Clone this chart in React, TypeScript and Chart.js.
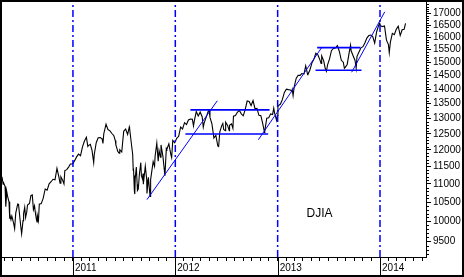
import React, { useEffect, useRef } from 'react';
import { Chart, registerables } from 'chart.js';

Chart.register(...registerables);

// ---- DATA (DJIA closes) ----
const djia2010: [string, number][] = [
  ["04-23",11204],["04-27",10992],["04-30",11009],["05-04",10926],["05-06",10520],["05-07",10380],["05-10",10785],["05-14",10620],["05-18",10510],["05-20",10068],["05-21",10193],["05-25",10043],["05-28",10137],["06-01",10025],["06-04",9932],["06-07",9816],["06-11",10212],["06-18",10450],["06-21",10443],["06-25",10144],["06-29",9870],["07-02",9686],["07-07",10018],["07-09",10198],["07-13",10364],["07-16",10098],["07-20",10230],["07-23",10425],["07-30",10466],["08-04",10680],["08-09",10698],["08-13",10303],["08-17",10406],["08-20",10214],["08-24",10040],["08-26",9985],["08-27",10150],["08-31",10015],["09-03",10448],["09-10",10462],["09-17",10608],["09-24",10860],["10-01",10830],["10-08",11006],["10-15",11063],["10-22",11133],["10-29",11118],["11-05",11445],["11-12",11193],["11-16",11023],["11-19",11204],["11-26",11092],["11-30",11006],["12-03",11382],["12-10",11410],["12-17",11492],["12-23",11573],["12-31",11578]
];
const djia2011: [string, number][] = [
  ["01-07",11675],["01-14",11787],["01-21",11871],["01-28",11824],["02-04",12092],["02-11",12273],["02-18",12391],["02-23",12106],["02-25",12130],["03-04",12169],["03-10",11984],["03-16",11613],["03-18",11859],["03-25",12220],["04-01",12376],["04-08",12380],["04-15",12342],["04-18",12202],["04-21",12505],["04-29",12811],["05-06",12638],["05-13",12596],["05-20",12512],["05-27",12441],["06-01",12290],["06-03",12151],["06-10",11952],["06-15",11898],["06-17",12004],["06-24",11934],["07-01",12582],["07-08",12657],["07-15",12480],["07-21",12724],["07-22",12681],["07-29",12143],["08-02",11867],["08-04",11384],["08-05",11445],["08-08",10810],["08-09",11240],["08-10",10720],["08-11",11144],["08-15",11483],["08-18",10991],["08-19",10818],["08-22",10855],["08-26",11285],["08-31",11614],["09-02",11240],["09-06",11139],["09-08",11296],["09-09",10992],["09-16",11509],["09-21",11125],["09-22",10734],["09-27",11191],["09-30",10913],["10-03",10655],["10-04",10809],["10-06",11123],["10-14",11644],["10-19",11505],["10-21",11808],["10-27",12209],["11-01",11657],["11-04",11983],["11-09",11780],["11-11",12153],["11-18",11796],["11-25",11231],["11-30",12046],["12-02",12019],["12-09",12184],["12-16",11866],["12-19",11766],["12-23",12294],["12-30",12218]
];
const djia2012: [string, number][] = [
  ["01-06",12360],["01-13",12422],["01-20",12720],["01-27",12660],["02-03",12862],["02-10",12801],["02-17",12950],["02-24",12983],["03-02",12978],["03-06",12759],["03-09",12922],["03-16",13233],["03-23",13081],["03-30",13212],["04-06",13060],["04-10",12716],["04-13",12850],["04-20",13029],["04-27",13228],["05-01",13279],["05-04",13038],["05-11",12821],["05-18",12369],["05-25",12455],["06-01",12119],["06-04",12101],["06-08",12554],["06-15",12767],["06-19",12837],["06-22",12640],["06-28",12602],["06-29",12880],["07-06",12772],["07-12",12604],["07-13",12777],["07-20",12822],["07-25",12676],["07-27",13075],["08-03",13096],["08-10",13207],["08-17",13275],["08-24",13157],["08-31",13090],["09-07",13306],["09-14",13593],["09-21",13579],["09-28",13437],["10-05",13610],["10-12",13328],["10-19",13343],["10-26",13107],["11-02",13093],["11-09",12815],["11-15",12543],["11-16",12588],["11-23",13010],["11-30",13026],["12-07",13155],["12-14",13135],["12-18",13351],["12-21",13190],["12-28",12938],["12-31",13104]
];
const djia2013: [string, number][] = [
  ["01-02",13412],["01-04",13435],["01-11",13488],["01-18",13650],["01-25",13896],["02-01",14010],["02-08",13993],["02-15",13982],["02-20",13928],["02-22",14001],["02-25",13784],["03-01",14090],["03-08",14397],["03-15",14514],["03-22",14512],["03-28",14579],["04-05",14565],["04-11",14865],["04-18",14537],["04-19",14547],["04-26",14712],["05-03",14974],["05-10",15118],["05-17",15354],["05-22",15307],["05-24",15303],["05-31",15116],["06-05",14960],["06-07",15248],["06-14",15071],["06-20",14758],["06-24",14660],["06-28",14910],["07-05",15136],["07-12",15464],["07-19",15544],["07-26",15559],["08-02",15659],["08-09",15425],["08-16",15081],["08-23",15010],["08-27",14776],["08-30",14810],["09-06",14922],["09-13",15376],["09-18",15676],["09-20",15452],["09-27",15259],["10-04",15073],["10-08",14776],["10-11",15237],["10-18",15400],["10-25",15570],["11-01",15615],["11-08",15762],["11-15",15962],["11-22",16064],["11-29",16086],["12-06",16020],["12-13",15755],["12-20",16221],["12-27",16479],["12-31",16577]
];
const djia2014: [string, number][] = [
  ["01-03",16469],["01-10",16437],["01-17",16459],["01-24",15879],["01-31",15699],["02-03",15373],["02-07",15794],["02-14",16154],["02-21",16103],["02-28",16322],["03-07",16453],["03-14",16065],["03-21",16303],["03-28",16323],["04-02",16573]
];

// trend / channel lines: [startDate, startValue, endDate, endValue]
const risingLines: [string, number, string, number][] = [
  ["2011-09-22", 10570, "2012-05-30", 13600],
  ["2012-10-24", 12315, "2013-06-06", 15563],
  ["2013-09-22", 14630, "2014-01-18", 17069],
];
const channelLines: [string, number, string, number][] = [
  ["2012-02-24", 13290, "2012-12-03", 13290],
  ["2012-02-06", 12495, "2012-11-28", 12495],
  ["2013-05-22", 15575, "2013-10-23", 15575],
  ["2013-05-16", 14705, "2013-10-27", 14705],
];

const yearLines = [2011, 2012, 2013, 2014];
const yTickValues = [9500, 10000, 10500, 11000, 11500, 12000, 12500, 13000, 13500, 14000, 14500, 15000, 15500, 16000, 16500, 17000];
const seriesLabel = "DJIA";
const xMaxDate = "2014-06-14";
const yMin = 9130;
const yMax = 17500;
const labelAnchor: [string, number] = ["2013-04-14", 10110];

// ---- helpers ----
function toYear(d: string): number {
  const [y, m, dd] = d.split('-').map(Number);
  const start = Date.UTC(y, 0, 1);
  const end = Date.UTC(y + 1, 0, 1);
  return y + (Date.UTC(y, m - 1, dd) - start) / (end - start);
}

const toPts = (year: number, arr: [string, number][]) =>
  arr.map(([d, v]) => ({ x: toYear(`${year}-${d}`), y: v }));

const pricePoints = [
  ...toPts(2010, djia2010),
  ...toPts(2011, djia2011),
  ...toPts(2012, djia2012),
  ...toPts(2013, djia2013),
  ...toPts(2014, djia2014),
];

const xMin = pricePoints[0].x;
const xMax = toYear(xMaxDate);

function monthTicks(): number[] {
  const out: number[] = [];
  for (let y = 2010; y <= 2014; y++) {
    for (let m = 1; m <= 12; m++) {
      const v = toYear(`${y}-${String(m).padStart(2, '0')}-01`);
      if (v > xMin && v < xMax) out.push(v);
    }
  }
  return out;
}

const BLUE = '#0000ff';
const FONT = '"Liberation Sans", Arial, Helvetica, sans-serif';

export default function App() {
  const ref = useRef<HTMLCanvasElement | null>(null);

  useEffect(() => {
    document.body.style.margin = '0';
    const canvas = ref.current;
    if (!canvas) return;

    const datasets: any[] = [];
    risingLines.forEach(([d1, v1, d2, v2]) => {
      datasets.push({
        data: [{ x: toYear(d1), y: v1 }, { x: toYear(d2), y: v2 }],
        borderColor: BLUE, borderWidth: 1, pointRadius: 0, order: 0,
      });
    });
    channelLines.forEach(([d1, v1, d2, v2]) => {
      datasets.push({
        data: [{ x: toYear(d1), y: v1 }, { x: toYear(d2), y: v2 }],
        borderColor: BLUE, borderWidth: 1.6, pointRadius: 0, order: 0,
      });
    });
    yearLines.forEach((yr) => {
      datasets.push({
        data: [{ x: yr, y: yMin }, { x: yr, y: yMax }],
        borderColor: BLUE, borderWidth: 1.5, borderDash: [7, 3, 2, 3], pointRadius: 0, order: 1,
      });
    });
    datasets.push({
      label: seriesLabel,
      data: pricePoints,
      borderColor: '#000', borderWidth: 1.1, pointRadius: 0, tension: 0, order: 2,
    });

    const decor = {
      id: 'decor',
      afterDraw(chart: any) {
        const ctx = chart.ctx;
        const xs = chart.scales.x;
        const ys = chart.scales.y;
        ctx.save();
        ctx.strokeStyle = '#000';
        ctx.lineWidth = 1;
        // minor y ticks
        for (let v = 9200; v <= 17400; v += 100) {
          if (v % 500 === 0) continue;
          const py = Math.round(ys.getPixelForValue(v)) + 0.5;
          ctx.beginPath();
          ctx.moveTo(ys.left, py);
          ctx.lineTo(ys.left + 3, py);
          ctx.stroke();
        }
        // long year ticks
        yearLines.forEach((yr) => {
          const px = Math.round(xs.getPixelForValue(yr)) + 0.5;
          ctx.beginPath();
          ctx.moveTo(px, xs.top);
          ctx.lineTo(px, chart.height);
          ctx.stroke();
        });
        // series label
        ctx.fillStyle = '#000';
        ctx.font = `12px ${FONT}`;
        ctx.textBaseline = 'alphabetic';
        ctx.textAlign = 'left';
        ctx.fillText(seriesLabel, xs.getPixelForValue(toYear(labelAnchor[0])), ys.getPixelForValue(labelAnchor[1]));
        ctx.restore();
      },
    };

    const chart = new Chart(canvas, {
      type: 'line',
      data: { datasets },
      options: {
        animation: false,
        responsive: false,
        devicePixelRatio: 1,
        layout: { padding: 0 },
        plugins: { legend: { display: false }, tooltip: { enabled: false } },
        elements: { line: { borderCapStyle: 'butt' } },
        scales: {
          x: {
            type: 'linear',
            min: xMin,
            max: xMax,
            position: 'bottom',
            grid: { drawOnChartArea: false, drawTicks: true, tickLength: 4, color: '#000', tickColor: '#000' },
            border: { display: true, color: '#000', width: 1 },
            ticks: {
              autoSkip: false,
              maxRotation: 0,
              minRotation: 0,
              align: 'start',
              labelOffset: 2,
              padding: 1,
              color: '#000',
              font: { family: FONT, size: 10 },
              callback: (v: any) => {
                const n = Number(v);
                return Math.abs(n - Math.round(n)) < 1e-6 ? String(Math.round(n)) : '';
              },
            },
            afterBuildTicks: (s: any) => {
              s.ticks = monthTicks().map((v) => ({ value: v }));
            },
            afterFit: (s: any) => {
              s.height = 18;
              s.paddingLeft = 0; s.paddingRight = 0; s.paddingTop = 0; s.paddingBottom = 0;
            },
          } as any,
          y: {
            type: 'logarithmic',
            position: 'right',
            min: yMin,
            max: yMax,
            grid: { drawOnChartArea: false, drawTicks: true, tickLength: 5, color: '#000', tickColor: '#000' },
            border: { display: true, color: '#000', width: 1 },
            ticks: {
              autoSkip: false,
              padding: 2,
              color: '#000',
              font: { family: FONT, size: 10 },
              callback: (v: any) => String(v),
            },
            afterBuildTicks: (s: any) => {
              s.ticks = yTickValues.map((v) => ({ value: v }));
            },
            afterFit: (s: any) => {
              s.width = 36;
              s.paddingLeft = 0; s.paddingRight = 0; s.paddingTop = 0; s.paddingBottom = 0;
            },
          } as any,
        },
      },
      plugins: [decor],
    });

    return () => chart.destroy();
  }, []);

  return (
    <div
      style={{
        width: 464,
        height: 277,
        boxSizing: 'border-box',
        border: '2px solid #000',
        background: '#fff',
        position: 'relative',
        overflow: 'hidden',
      }}
    >
      <canvas ref={ref} width={460} height={273} style={{ display: 'block', width: 460, height: 273 }} />
    </div>
  );
}
